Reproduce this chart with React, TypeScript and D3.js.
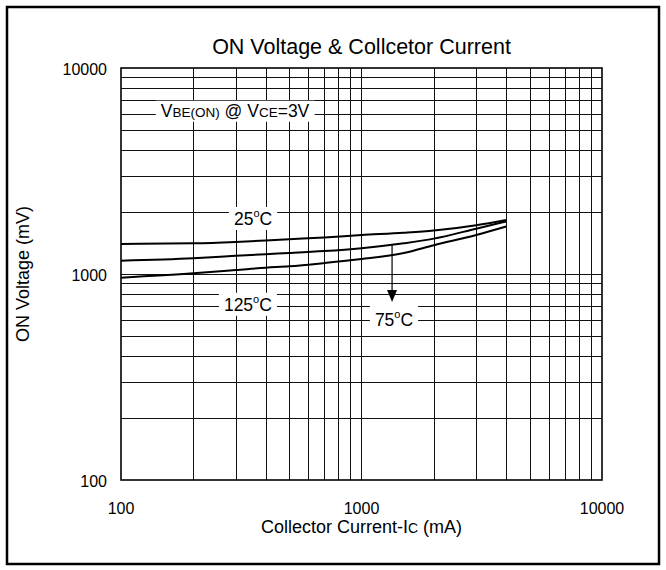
import { useEffect, useRef } from "react";
import * as d3 from "d3";

// collector current (mA) sample points
const currents = [100, 200, 300, 400, 500, 700, 1000, 1500, 2000, 3000, 4000];
// ON voltage (mV) per temperature
const v25 = [1400, 1410, 1432, 1455, 1475, 1505, 1545, 1585, 1625, 1725, 1830];
const v75 = [1160, 1192, 1225, 1248, 1264, 1292, 1335, 1410, 1485, 1660, 1800];
const v125 = [960, 1008, 1045, 1073, 1090, 1130, 1182, 1265, 1380, 1547, 1700];

const xTicks = [100, 1000, 10000];
const yTicks = [100, 1000, 10000];

const series = [v25, v75, v125];

// annotation anchors in data units [current, voltage]
const labelSpots = [
  { key: "vbe", at: [298, 5800], padTop: 2 },
  { key: "t25", at: [354, 1730], padTop: 2 },
  { key: "t125", at: [337, 663], padTop: 2 },
  { key: "t75", at: [1365, 560], padTop: 12 },
];
const arrowFrom = [1340, 1380];
const arrowTo = [1340, 731];

export default function App() {
  const ref = useRef<SVGSVGElement>(null);

  useEffect(() => {
    if (!ref.current) return;
    const svg = d3.select(ref.current);
    svg.selectAll("*").remove();
    const font = "'Liberation Sans', Arial, Helvetica, sans-serif";

    const left = 121, right = 602, top = 68, bottom = 480;
    const x = d3.scaleLog().domain([100, 10000]).range([left, right]);
    const y = d3.scaleLog().domain([100, 10000]).range([bottom, top]);

    // outer frame
    svg.append("rect")
      .attr("x", 7).attr("y", 7).attr("width", 652).attr("height", 557)
      .attr("fill", "none").attr("stroke", "#000").attr("stroke-width", 2.5);

    // grid
    const gx = x.ticks().filter((d) => d > 100 && d < 10000);
    const gy = y.ticks().filter((d) => d > 100 && d < 10000);
    const grid = svg.append("g").attr("stroke", "#111").attr("stroke-width", 1);
    grid.selectAll("line.v").data(gx).enter().append("line")
      .attr("x1", (d) => Math.round(x(d)) + 0.5).attr("x2", (d) => Math.round(x(d)) + 0.5)
      .attr("y1", top).attr("y2", bottom);
    grid.selectAll("line.h").data(gy).enter().append("line")
      .attr("y1", (d) => Math.round(y(d)) + 0.5).attr("y2", (d) => Math.round(y(d)) + 0.5)
      .attr("x1", left).attr("x2", right);

    // labels with white boxes
    const boxes = svg.append("g");
    const labels = svg.append("g").attr("font-family", font).attr("font-size", 17.5)
      .attr("text-anchor", "middle").attr("fill", "#000");

    labelSpots.forEach((s) => {
      const t = labels.append("text").attr("x", x(s.at[0])).attr("y", y(s.at[1]));
      if (s.key === "vbe") {
        t.append("tspan").text("V");
        t.append("tspan").attr("font-size", 13.5).text("BE(ON)");
        t.append("tspan").text(" @ V");
        t.append("tspan").attr("font-size", 13.5).text("CE");
        t.append("tspan").text("=3V");
      } else {
        const num = s.key === "t25" ? "25" : s.key === "t75" ? "75" : "125";
        t.append("tspan").text(num);
        t.append("tspan").attr("font-size", 11).attr("dy", -8).text("o");
        t.append("tspan").attr("dy", 8).text("C");
      }
      const bb = (t.node() as SVGTextElement).getBBox();
      boxes.append("rect")
        .attr("x", bb.x - 5).attr("y", bb.y - s.padTop + 2)
        .attr("width", bb.width + 10).attr("height", bb.height + s.padTop - 1)
        .attr("fill", "#fff");
    });

    // curves
    const line = d3.line<number>()
      .x((_, i) => x(currents[i]))
      .y((d) => y(d))
      .curve(d3.curveMonotoneX);
    svg.append("g").selectAll("path").data(series).enter().append("path")
      .attr("d", (d) => line(d))
      .attr("fill", "none").attr("stroke", "#000").attr("stroke-width", 2);

    // arrow to 75°C label
    const ax = x(arrowFrom[0]);
    const headTop = y(arrowTo[1]) - 12;
    svg.append("line")
      .attr("x1", ax).attr("x2", ax)
      .attr("y1", y(arrowFrom[1])).attr("y2", headTop)
      .attr("stroke", "#000").attr("stroke-width", 1.2);
    svg.append("path")
      .attr("d", `M${ax - 5},${headTop} L${ax + 5},${headTop} L${ax},${y(arrowTo[1])} Z`)
      .attr("fill", "#000");

    // plot frame
    svg.append("rect")
      .attr("x", left).attr("y", top).attr("width", right - left).attr("height", bottom - top)
      .attr("fill", "none").attr("stroke", "#000").attr("stroke-width", 1.6);

    // tick labels
    const ticks = svg.append("g").attr("font-family", font).attr("font-size", 16).attr("fill", "#000");
    ticks.selectAll("text.y").data(yTicks).enter().append("text")
      .attr("x", 107).attr("y", (d) => y(d) + 6.5)
      .attr("text-anchor", "end").text((d) => d);
    ticks.selectAll("text.x").data(xTicks).enter().append("text")
      .attr("x", (d) => x(d)).attr("y", bottom + 34)
      .attr("text-anchor", "middle").text((d) => d);

    // titles
    svg.append("text")
      .attr("x", (left + right) / 2).attr("y", 53.5)
      .attr("text-anchor", "middle").attr("font-family", font).attr("font-size", 21.5)
      .text("ON Voltage & Collcetor Current");

    const xt = svg.append("text")
      .attr("x", (left + right) / 2).attr("y", 532.5)
      .attr("text-anchor", "middle").attr("font-family", font).attr("font-size", 18);
    xt.append("tspan").text("Collector Current-I");
    xt.append("tspan").attr("font-size", 14).text("C");
    xt.append("tspan").text(" (mA)");

    svg.append("text")
      .attr("transform", `translate(29,${(top + bottom) / 2}) rotate(-90)`)
      .attr("text-anchor", "middle").attr("font-family", font).attr("font-size", 18)
      .text("ON Voltage (mV)");
  }, []);

  return (
    <svg
      ref={ref}
      width={666}
      height={570}
      style={{ position: "absolute", left: 0, top: 0, background: "#fff" }}
    />
  );
}
